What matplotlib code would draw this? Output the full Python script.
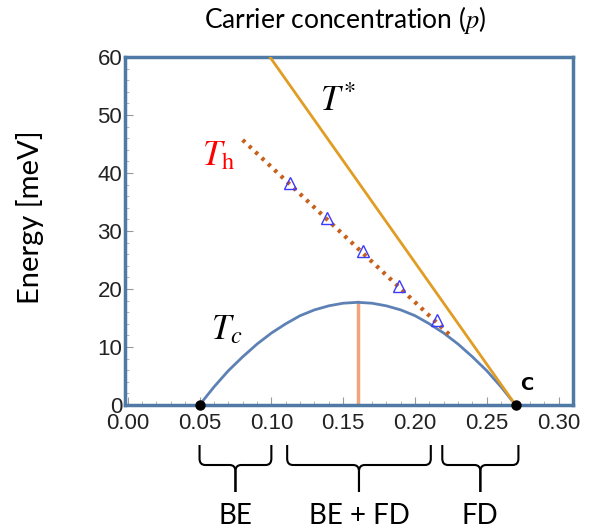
import matplotlib
matplotlib.use("Agg")
import matplotlib.pyplot as plt
import numpy as np
from matplotlib.path import Path
from matplotlib.patches import PathPatch
import matplotlib.transforms as mtransforms

plt.rcParams['mathtext.fontset'] = 'stix'
plt.rcParams['font.family'] = ['Liberation Sans', 'DejaVu Sans']

# ---- data ----
tc_p = [0.05, 0.06, 0.07, 0.08, 0.09, 0.10, 0.11, 0.12, 0.13, 0.14, 0.15, 0.16,
        0.17, 0.18, 0.19, 0.20, 0.21, 0.22, 0.23, 0.24, 0.25, 0.26, 0.27]
tc_E = [0.0, 3.1, 5.9, 8.3, 10.5, 12.4, 14.0, 15.4, 16.4, 17.1, 17.55, 17.7,
        17.55, 17.1, 16.4, 15.4, 14.0, 12.4, 10.5, 8.3, 5.9, 3.1, 0.0]
tstar_p = [0.099, 0.27]
tstar_E = [60.0, 0.0]
th_p = [0.080, 0.225]
th_E = [45.7, 11.9]
tri_p = [0.113, 0.1385, 0.164, 0.189, 0.215]
tri_E = [38.2, 32.3, 26.5, 20.5, 14.7]
peak_p = [0.16, 0.16]
peak_E = [0.0, 17.7]
dots_p = [0.05, 0.27]
dots_E = [0.0, 0.0]
xticks = [0.00, 0.05, 0.10, 0.15, 0.20, 0.25, 0.30]
yticks = [0, 10, 20, 30, 40, 50, 60]
regions = [("BE", 0.05, 0.10), ("BE + FD", 0.111, 0.211), ("FD", 0.219, 0.272)]

fig = plt.figure(figsize=(5.98, 5.28), dpi=100)
ax = fig.add_axes([125/598, 1-405/528, 448/598, 348/528])

spine_c = '#4f7aa6'
ax.plot(tc_p, tc_E, color='#5e81b5', lw=2.0, zorder=3)
ax.plot(tstar_p, tstar_E, color='#e19c24', lw=2.0, zorder=3)
ax.plot(th_p, th_E, color='#c8601c', lw=3.0, ls=(0, (0.8, 1.3)), zorder=4)
ax.plot(tri_p, tri_E, ls='none', marker='^', ms=8, mfc='none', mec='#3a3aff',
        mew=1.0, zorder=5)
ax.plot(peak_p, peak_E, color='#f2a47c', lw=2.5, zorder=2)
ax.plot(dots_p, dots_E, ls='none', marker='o', ms=6.5, color='black',
        zorder=6, clip_on=False)

ax.set_xlim(-0.0019, 0.310)
ax.set_ylim(0, 60)
ax.set_xticks(xticks)
ax.set_xticklabels([f"{v:.2f}" for v in xticks])
ax.set_yticks(yticks)
ax.set_yticks(np.arange(0, 61, 2), minor=True)
ax.set_xticks(np.arange(0, 0.311, 0.01), minor=True)
ax.tick_params(which='major', direction='in', length=6, width=0.8, color='#999999',
               labelsize=16, labelcolor='#222222')
ax.tick_params(axis='x', which='major', pad=5.5)
ax.tick_params(axis='y', which='major', pad=2)
ax.tick_params(which='minor', direction='in', length=3, width=0.6, color='#aaaaaa')
for s in ax.spines.values():
    s.set_color(spine_c)
    s.set_linewidth(2.5)

ax.text(0.146, 52.3, r'$T^{*}$', fontsize=25, ha='center', va='center', color='black')
ax.text(0.063, 43.0, r'$T_{\mathrm{h}}$', fontsize=25, ha='center', va='center', color='red')
ax.text(0.069, 13.0, r'$T_c$', fontsize=25, ha='center', va='center', color='black')
ax.text(0.278, 3.4, 'C', fontsize=13, fontweight='bold', ha='center', va='center',
        family=['DejaVu Sans'])

fig.text(345/598, 1-20/528, r'Carrier concentration ($p$)', fontsize=19,
         ha='center', va='center', family=['Lato', 'DejaVu Sans'])
fig.text(30/598, 1-217/528, 'Energy [meV]', fontsize=21, rotation=90,
         ha='center', va='center', family=['Lato', 'DejaVu Sans'])

# braces below axis
trans = mtransforms.blended_transform_factory(ax.transData, fig.transFigure)
ytop, ymid, ytip = 1-445/528, 1-465/528, 1-492/528
rx, ry = 0.004, 0.012
for name, x0, x1 in regions:
    xc = (x0 + x1) / 2
    for xe, sgn in ((x0, 1), (x1, -1)):
        verts = [(xe, ytop), (xe, ymid + ry), (xe, ymid), (xe + sgn*rx, ymid),
                 (xc - sgn*rx, ymid), (xc, ymid), (xc, ymid - ry), (xc, ytip)]
        codes = [Path.MOVETO, Path.LINETO, Path.CURVE3, Path.CURVE3,
                 Path.LINETO, Path.CURVE3, Path.CURVE3, Path.LINETO]
        fig.add_artist(PathPatch(Path(verts, codes), transform=trans, fill=False,
                                 lw=1.5, color='black', clip_on=False))
    fig.text(xc, 1-524/528, name, transform=trans, fontsize=20, ha='center',
             va='baseline', family=['Lato', 'DejaVu Sans'])

fig.savefig('out.png', dpi=100)
